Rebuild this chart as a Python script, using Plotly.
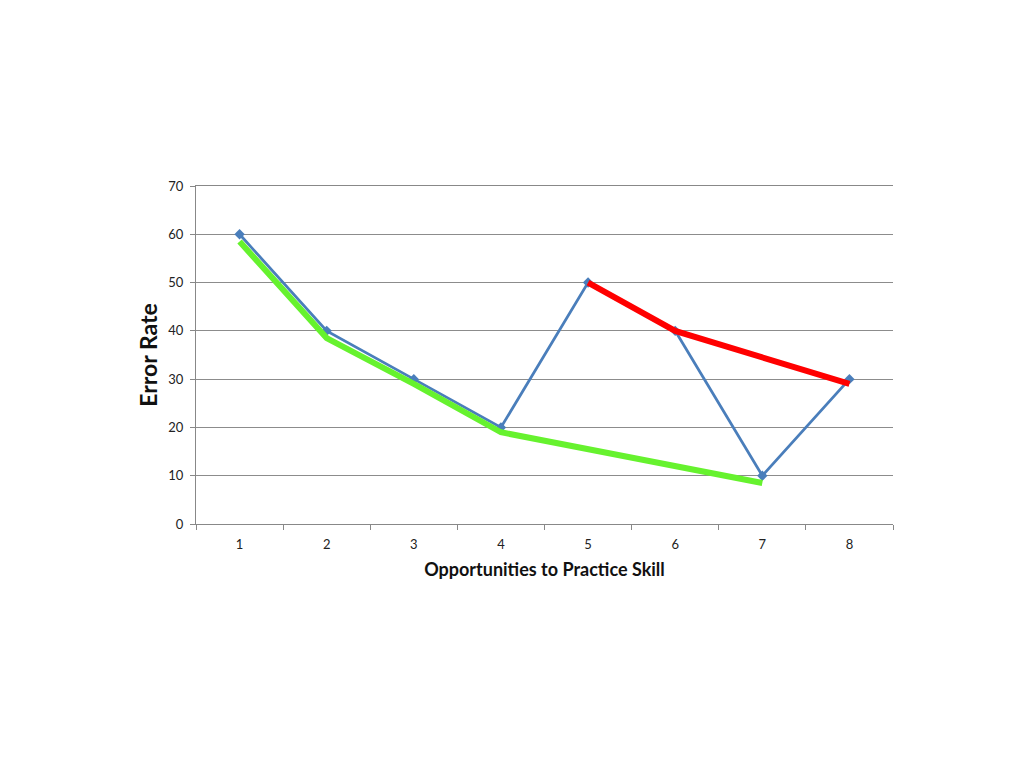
import plotly.graph_objects as go

categories = ["1", "2", "3", "4", "5", "6", "7", "8"]
error_rate = [60, 40, 30, 20, 50, 40, 10, 30]

green_x = ["1", "2", "3", "4", "7"]
green_y = [58.5, 38.5, 29, 19, 8.5]

red_x = ["5", "6", "8"]
red_y = [50, 40, 29]

y_ticks = [0, 10, 20, 30, 40, 50, 60, 70]

fig = go.Figure()
fig.add_trace(go.Scatter(x=categories, y=error_rate, mode="lines+markers",
                         line=dict(color="#4A7EBB", width=2.8),
                         marker=dict(symbol="diamond", size=8, color="#4A7EBB"),
                         showlegend=False))
fig.add_trace(go.Scatter(x=green_x, y=green_y, mode="lines",
                         line=dict(color="#66F22E", width=6),
                         showlegend=False))
fig.add_trace(go.Scatter(x=red_x, y=red_y, mode="lines",
                         line=dict(color="#FF0000", width=6),
                         showlegend=False))

font_fam = "Lato, Open Sans, sans-serif"
fig.update_layout(
    width=1024, height=768,
    margin=dict(l=188, r=139, t=178, b=252),
    paper_bgcolor="white", plot_bgcolor="white",
    font=dict(family=font_fam, color="#222222"),
    xaxis=dict(type="category", categoryorder="array", categoryarray=categories,
               range=[-0.5, 7.5], tickson="boundaries", ticks="outside", ticklen=5,
               tickcolor="#888888", showline=True, linecolor="#888888", linewidth=1,
               mirror=True, showgrid=False, tickfont=dict(size=13, color="#222222"),
               ticklabelstandoff=8,
               title=dict(text="<b>Opportunities to Practice Skill</b>",
                          font=dict(size=18, color="#111111"), standoff=12)),
    yaxis=dict(range=[0, 70], tickvals=y_ticks, ticks="outside", ticklen=5,
               tickcolor="#888888", showline=True, linecolor="#888888", linewidth=1,
               showgrid=True, gridcolor="#8C8C8C", gridwidth=1, zeroline=False,
               tickfont=dict(size=13, color="#222222"), ticklabelstandoff=4,
               title=dict(text="<b>Error Rate</b>",
                          font=dict(size=23, color="#111111"), standoff=4)),
)

fig.write_html("out.html")
